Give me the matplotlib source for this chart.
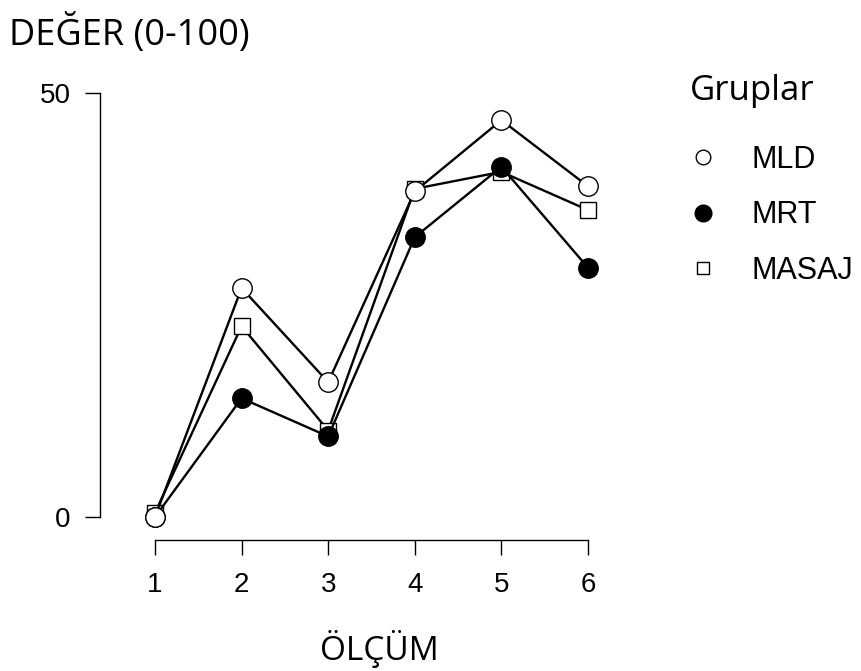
import matplotlib
matplotlib.use("Agg")
import matplotlib.pyplot as plt
from matplotlib.lines import Line2D

olcum = [1, 2, 3, 4, 5, 6]
mld = [0.0, 27.0, 15.9, 38.4, 46.8, 39.0]
mrt = [0.0, 14.0, 9.5, 33.0, 41.3, 29.4]
masaj = [0.5, 22.5, 10.2, 38.7, 40.7, 36.2]
groups = ["MLD", "MRT", "MASAJ"]
y_ticks = [0, 50]

plt.rcParams['font.family'] = ['Liberation Sans', 'DejaVu Sans']

fig = plt.figure(figsize=(8.62, 6.71), dpi=100)
ax = fig.add_axes([100/862, 1-540/671, 510/862, 447/671])

ms_c = 14
ms_s = 11.5
lw = 1.7
ax.plot(olcum, masaj, color='black', lw=lw, marker='s', ms=ms_s, mfc='white', mec='black', mew=1.0, zorder=3)
ax.plot(olcum, mrt, color='black', lw=lw, marker='o', ms=ms_c, mfc='black', mec='black', mew=1.0, zorder=4)
ax.plot(olcum, mld, color='black', lw=lw, marker='o', ms=ms_c, mfc='white', mec='black', mew=1.0, zorder=5)

ax.set_xlim(1 - 55/86.6, 6 + 22/86.6)
ax.set_ylim(-23/8.48, 50)
for s in ['top', 'right']:
    ax.spines[s].set_visible(False)
ax.spines['left'].set_bounds(0, 50)
ax.spines['bottom'].set_bounds(1, 6)
ax.spines['left'].set_linewidth(1.0)
ax.spines['bottom'].set_linewidth(1.0)
ax.set_xticks(olcum)
ax.set_yticks(y_ticks)
ax.tick_params(axis='x', labelsize=20, length=11, width=1.0, pad=12)
ax.tick_params(axis='y', labelsize=20, length=11, width=1.0, pad=10)

tfam = ['Open Sans', 'DejaVu Sans']
fig.text(9/862, 1-45/671, "DEĞER (0-100)", fontsize=26, family=tfam, ha='left', va='baseline')
fig.text(379/862, 1-660/671, "ÖLÇÜM", fontsize=24, family=tfam, ha='center', va='baseline')
fig.text(690/862, 1-100/671, "Gruplar", fontsize=25, family=tfam, ha='left', va='baseline')

handles = [
    Line2D([], [], ls='none', marker='o', ms=10.5, mfc='white', mec='black', mew=1.0),
    Line2D([], [], ls='none', marker='o', ms=12, mfc='black', mec='black', mew=1.0),
    Line2D([], [], ls='none', marker='s', ms=9, mfc='white', mec='black', mew=1.0),
]
leg = fig.legend(handles, groups, loc='upper left', bbox_to_anchor=(680/862, 1-145/671),
                 frameon=False, fontsize=22, handletextpad=0.85, labelspacing=0.83,
                 handlelength=1.5, borderaxespad=0, borderpad=0)

fig.savefig("out.png", dpi=100)
